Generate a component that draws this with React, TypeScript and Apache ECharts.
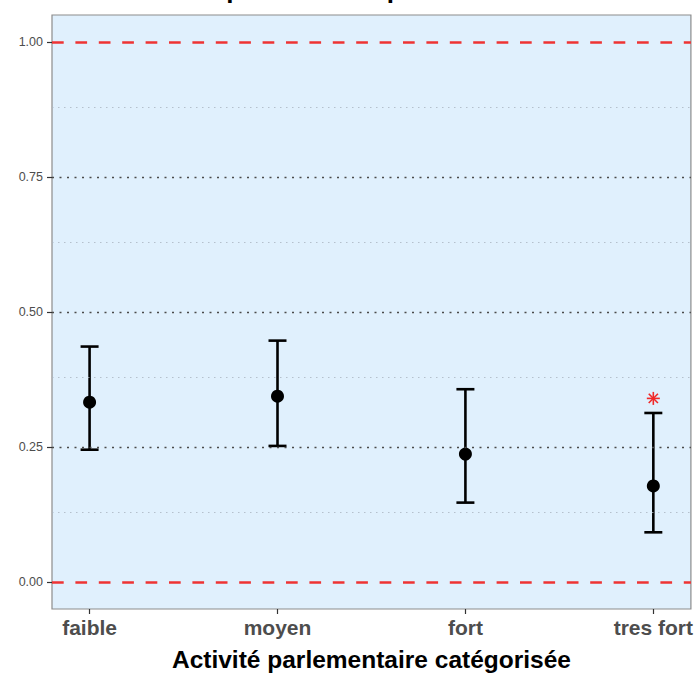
import React, { useEffect, useRef } from "react";
import * as echarts from "echarts";

const TITLE = "Taux de députés réélus par niveau d'activité";
const X_TITLE = "Activité parlementaire catégorisée";
const categories = ["faible", "moyen", "fort", "tres fort"];
const estimates = [0.333, 0.344, 0.237, 0.178];
const lowerCI = [0.245, 0.252, 0.147, 0.092];
const upperCI = [0.436, 0.447, 0.357, 0.313];
const starIndex = [3];
const starValue = [0.34];
const yTicks = [0, 0.25, 0.5, 0.75, 1];
const yMajorGrid = [0.25, 0.5, 0.75];
const yMinor = [0.125, 0.375, 0.625, 0.875];
const refLines = [0, 1];

const FONT = '"Liberation Sans", Arial, Helvetica, sans-serif';

export default function App() {
  const ref = useRef<HTMLDivElement>(null);
  useEffect(() => {
    document.body.style.margin = "0";
    const chart = echarts.init(ref.current!, null, { renderer: "svg" });
    const xPos = categories.map((_, i) => i + 1);
    const option: any = {
      animation: false,
      backgroundColor: "#ffffff",
      textStyle: { fontFamily: FONT },
      graphic: [
        {
          type: "text",
          x: 364,
          y: -24,
          silent: true,
          style: {
            text: TITLE,
            font: `bold 26px ${FONT}`,
            fill: "#000000",
            textAlign: "center",
            textVerticalAlign: "top",
          },
        },
      ],
      grid: {
        left: 52,
        right: 4,
        top: 15,
        bottom: 64,
        show: true,
        backgroundColor: "#e0f0fd",
        borderColor: "#8c8c8c",
        borderWidth: 1.2,
      },
      xAxis: {
        type: "value",
        min: 0.8,
        max: 4.2,
        name: X_TITLE,
        nameLocation: "middle",
        nameGap: 38,
        nameTextStyle: { fontFamily: FONT, fontWeight: "bold", fontSize: 24.5, color: "#000" },
        axisLine: { show: false, onZero: false },
        splitLine: { show: false },
        axisTick: {
          show: true,
          customValues: xPos,
          length: 5,
          lineStyle: { color: "#333", width: 1.2 },
        },
        axisLabel: {
          customValues: xPos,
          formatter: (v: number) => categories[Math.round(v) - 1] ?? "",
          fontFamily: FONT,
          fontWeight: "bold",
          fontSize: 21,
          color: "#4d4d4d",
          margin: 8,
        },
      },
      yAxis: {
        type: "value",
        min: -0.05,
        max: 1.05,
        axisLine: { show: false, onZero: false },
        splitLine: { show: false },
        axisTick: {
          show: true,
          customValues: yTicks,
          length: 5,
          lineStyle: { color: "#333", width: 1.2 },
        },
        axisLabel: {
          customValues: yTicks,
          formatter: (v: number) => v.toFixed(2),
          fontFamily: FONT,
          fontSize: 12.5,
          color: "#4d4d4d",
          margin: 9,
        },
      },
      series: [
        {
          type: "line",
          data: [],
          z: 1,
          silent: true,
          markLine: {
            silent: true,
            symbol: "none",
            label: { show: false },
            data: [
              ...yMinor.map((v) => ({
                yAxis: v,
                lineStyle: { color: "#a9b4bf", width: 0.8, type: [1.5, 4.5] },
              })),
              ...yMajorGrid.map((v) => ({
                yAxis: v,
                lineStyle: { color: "#4a4a4a", width: 1.3, type: [2, 5.5] },
              })),
              ...refLines.map((v) => ({
                yAxis: v,
                lineStyle: { color: "#ee3333", width: 2.6, type: [11.7, 11.7] },
              })),
            ],
          },
        },
        {
          type: "custom",
          z: 3,
          silent: true,
          encode: { x: 0, y: [1, 2] },
          data: xPos.map((x, i) => [x, lowerCI[i], upperCI[i]]),
          renderItem: (params: any, api: any) => {
            const x = api.value(0);
            const lo = api.coord([x, api.value(1)]);
            const hi = api.coord([x, api.value(2)]);
            const style = { stroke: "#000", lineWidth: 2.6 };
            const cap = 9;
            return {
              type: "group",
              children: [
                { type: "line", shape: { x1: lo[0], y1: lo[1], x2: hi[0], y2: hi[1] }, style },
                { type: "line", shape: { x1: lo[0] - cap, y1: lo[1], x2: lo[0] + cap, y2: lo[1] }, style },
                { type: "line", shape: { x1: hi[0] - cap, y1: hi[1], x2: hi[0] + cap, y2: hi[1] }, style },
              ],
            };
          },
        },
        {
          type: "scatter",
          z: 4,
          silent: true,
          symbol: "circle",
          symbolSize: 13,
          itemStyle: { color: "#000", opacity: 1 },
          data: xPos.map((x, i) => [x, estimates[i]]),
        },
        {
          type: "custom",
          z: 5,
          silent: true,
          encode: { x: 0, y: 1 },
          data: starIndex.map((idx, i) => [idx + 1, starValue[i]]),
          renderItem: (params: any, api: any) => {
            const c = api.coord([api.value(0), api.value(1)]);
            const r = 6.5;
            const style = { stroke: "#f02828", lineWidth: 1.6 };
            const angles = [0, 45, 90, 135];
            return {
              type: "group",
              children: angles.map((a) => {
                const rad = (a * Math.PI) / 180;
                const dx = Math.cos(rad) * r;
                const dy = Math.sin(rad) * r;
                return {
                  type: "line",
                  shape: { x1: c[0] - dx, y1: c[1] - dy, x2: c[0] + dx, y2: c[1] + dy },
                  style,
                };
              }),
            };
          },
        },
      ],
    };
    chart.setOption(option);
    return () => chart.dispose();
  }, []);
  return (
    <div
      ref={ref}
      style={{ position: "absolute", left: 0, top: 0, width: 696, height: 677 }}
    />
  );
}
